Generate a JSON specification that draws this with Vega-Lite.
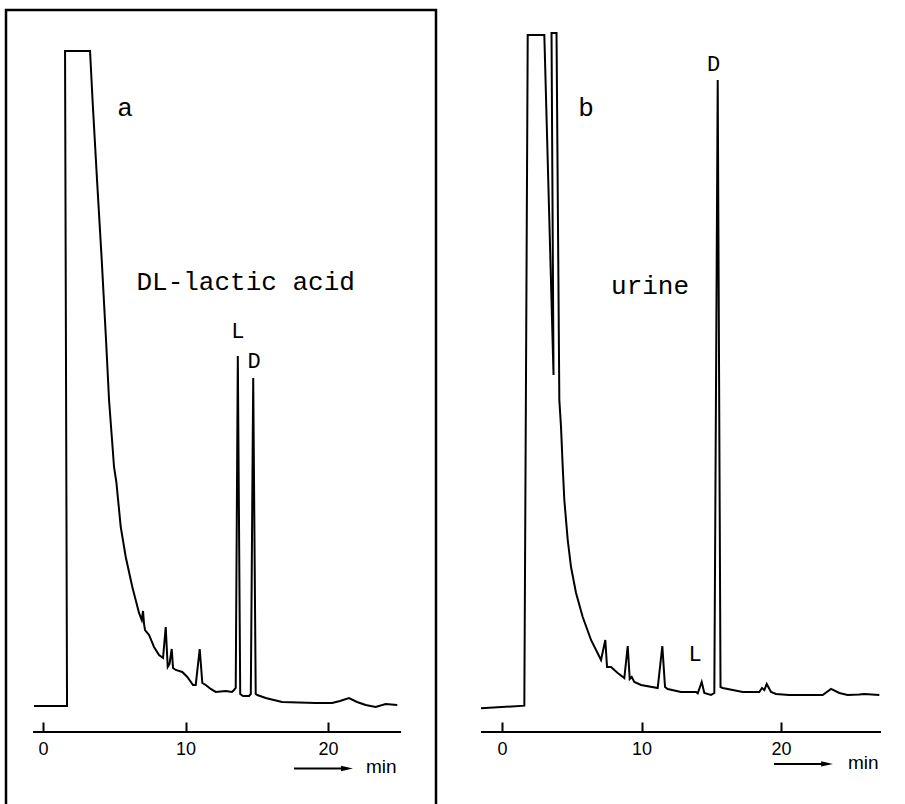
{
  "$schema": "https://vega.github.io/schema/vega-lite/v6.json",
  "padding": {"left": 4, "top": 8, "right": 0, "bottom": 0},
  "spacing": 0,
  "background": "white",
  "config": {
    "view": {"stroke": null},
    "axis": {
      "domain": false, "grid": false, "ticks": true, "tickSize": -10, "tickWidth": 2, "tickColor": "black",
      "labelPadding": 18, "labelFont": "Liberation Sans", "labelFontSize": 18, "labelFontWeight": 500, "labelColor": "black",
      "labelFlush": false, "title": null
    }
  },
  "datasets": {
    "a": [
      {"t": -0.632, "r": 0}, {"t": 1.684, "r": 0}, {"t": 1.544, "r": 100}, {"t": 3.298, "r": 100},
      {"t": 3.474, "r": 92.52}, {"t": 3.789, "r": 80.31}, {"t": 4.119, "r": 68.09}, {"t": 4.421, "r": 55.88},
      {"t": 4.632, "r": 46.72}, {"t": 4.842, "r": 40.61}, {"t": 4.982, "r": 36.49}, {"t": 5.144, "r": 34.2},
      {"t": 5.453, "r": 27.33}, {"t": 5.804, "r": 22.75}, {"t": 6.267, "r": 18.17}, {"t": 6.737, "r": 14.2},
      {"t": 6.926, "r": 13.13}, {"t": 7.018, "r": 14.5}, {"t": 7.088, "r": 12.52}, {"t": 7.158, "r": 11.6},
      {"t": 7.439, "r": 10.84}, {"t": 7.789, "r": 9.01}, {"t": 8.14, "r": 7.79}, {"t": 8.421, "r": 7.33},
      {"t": 8.611, "r": 12.06}, {"t": 8.751, "r": 5.95}, {"t": 8.877, "r": 6.41}, {"t": 9.032, "r": 8.7},
      {"t": 9.123, "r": 5.8}, {"t": 9.312, "r": 5.5}, {"t": 9.775, "r": 5.19}, {"t": 10.126, "r": 4.43},
      {"t": 10.526, "r": 3.21}, {"t": 10.716, "r": 3.21}, {"t": 10.996, "r": 8.7}, {"t": 11.179, "r": 3.51},
      {"t": 11.418, "r": 3.21}, {"t": 11.768, "r": 2.6}, {"t": 12.119, "r": 2.14}, {"t": 12.821, "r": 2.29},
      {"t": 13.263, "r": 2.14}, {"t": 13.404, "r": 2.44}, {"t": 13.523, "r": 2.75}, {"t": 13.67, "r": 53.44},
      {"t": 13.839, "r": 1.83}, {"t": 14.035, "r": 1.53}, {"t": 14.456, "r": 1.53}, {"t": 14.582, "r": 1.83},
      {"t": 14.751, "r": 50.08}, {"t": 14.926, "r": 1.83}, {"t": 15.039, "r": 1.68}, {"t": 15.628, "r": 1.22},
      {"t": 16.772, "r": 0.61}, {"t": 19.137, "r": 0.46}, {"t": 20.281, "r": 0.46}, {"t": 20.842, "r": 0.76},
      {"t": 21.474, "r": 1.22}, {"t": 22.035, "r": 0.61}, {"t": 22.646, "r": 0.15}, {"t": 23.347, "r": -0.15},
      {"t": 24.049, "r": 0.31}, {"t": 24.863, "r": 0.15}
    ],
    "b": [
      {"t": -1.505, "r": -0.35}, {"t": 1.599, "r": 0.05}, {"t": 1.842, "r": 102.44}, {"t": 3.032, "r": 102.44},
      {"t": 3.692, "r": 50.53}, {"t": 3.548, "r": 102.75}, {"t": 3.907, "r": 102.75}, {"t": 4.108, "r": 46.72},
      {"t": 4.229, "r": 42.6}, {"t": 4.351, "r": 36.49}, {"t": 4.466, "r": 31.45}, {"t": 4.71, "r": 25.34},
      {"t": 4.946, "r": 21.22}, {"t": 5.305, "r": 17.25}, {"t": 5.785, "r": 13.59}, {"t": 6.38, "r": 10.08},
      {"t": 7.097, "r": 7.02}, {"t": 7.405, "r": 10.08}, {"t": 7.527, "r": 5.95}, {"t": 7.814, "r": 5.95},
      {"t": 8.294, "r": 5.04}, {"t": 8.767, "r": 4.27}, {"t": 9.011, "r": 9.16}, {"t": 9.154, "r": 4.12},
      {"t": 9.297, "r": 4.43}, {"t": 9.484, "r": 3.66}, {"t": 9.964, "r": 3.21}, {"t": 11.161, "r": 2.75},
      {"t": 11.491, "r": 9.16}, {"t": 11.685, "r": 2.9}, {"t": 11.878, "r": 2.6}, {"t": 12.832, "r": 2.14},
      {"t": 13.907, "r": 2.14}, {"t": 14.029, "r": 1.94}, {"t": 14.315, "r": 3.66}, {"t": 14.502, "r": 1.98},
      {"t": 14.982, "r": 1.68}, {"t": 15.219, "r": 1.98}, {"t": 15.462, "r": 95.57}, {"t": 15.663, "r": 2.9},
      {"t": 15.821, "r": 2.75}, {"t": 16.538, "r": 2.44}, {"t": 17.255, "r": 2.14}, {"t": 18.444, "r": 2.14},
      {"t": 18.638, "r": 2.75}, {"t": 18.803, "r": 2.44}, {"t": 18.975, "r": 3.36}, {"t": 19.283, "r": 2.14},
      {"t": 19.642, "r": 1.83}, {"t": 20.573, "r": 1.68}, {"t": 22.989, "r": 1.68}, {"t": 23.584, "r": 2.6},
      {"t": 24.179, "r": 1.98}, {"t": 24.781, "r": 1.68}, {"t": 25.613, "r": 1.76}, {"t": 25.971, "r": 1.83},
      {"t": 27.047, "r": 1.68}
    ]
  },
  "hconcat": [
    {
      "width": 430,
      "height": 800,
      "view": {"stroke": "black", "strokeWidth": 2.5},
      "layer": [
        {
          "data": {"name": "a"},
          "mark": {"type": "line", "color": "black", "strokeWidth": 2},
          "encoding": {
            "x": {"field": "t", "type": "quantitative", "scale": {"domain": [-2.6, 27.58], "nice": false, "zero": false},
                  "axis": {"values": [0, 10, 20], "offset": -78}},
            "y": {"field": "r", "type": "quantitative", "scale": {"domain": [-15.88, 106.26], "nice": false, "zero": false}, "axis": null},
            "order": {"value": null}
          }
        },
        {
          "data": {"values": [{"t": -0.7, "t2": 25.13, "r": -3.97}]},
          "mark": {"type": "rule", "color": "black", "strokeWidth": 2},
          "encoding": {
            "x": {"field": "t", "type": "quantitative"},
            "x2": {"field": "t2"},
            "y": {"field": "r", "type": "quantitative"}
          }
        },
        {
          "data": {"values": [{"t": 17.61, "t2": 21.2, "r": -9.54}]},
          "mark": {"type": "rule", "color": "black", "strokeWidth": 2},
          "encoding": {
            "x": {"field": "t", "type": "quantitative"},
            "x2": {"field": "t2"},
            "y": {"field": "r", "type": "quantitative"}
          }
        },
        {
          "data": {"values": [{"t": 21.33, "r": -9.54}]},
          "mark": {"type": "point", "shape": "M-1,-0.45L1,0L-1,0.45Z", "filled": true, "color": "black", "size": 140, "opacity": 1},
          "encoding": {
            "x": {"field": "t", "type": "quantitative"},
            "y": {"field": "r", "type": "quantitative"}
          }
        },
        {
          "data": {"values": [{"t": 22.67, "r": -9.31, "label": "min"}]},
          "mark": {"type": "text", "font": "Liberation Sans", "fontSize": 19, "fontWeight": 500, "align": "left", "baseline": "middle", "color": "black"},
          "encoding": {
            "x": {"field": "t", "type": "quantitative"},
            "y": {"field": "r", "type": "quantitative"},
            "text": {"field": "label"}
          }
        },
        {
          "data": {"values": [{"t": 5.75, "r": 91.3, "label": "a"}, {"t": 14.22, "r": 64.73, "label": "DL-lactic acid"}]},
          "mark": {"type": "text", "font": "Liberation Mono", "fontSize": 26, "align": "center", "baseline": "middle", "color": "black"},
          "encoding": {
            "x": {"field": "t", "type": "quantitative"},
            "y": {"field": "r", "type": "quantitative"},
            "text": {"field": "label"}
          }
        },
        {
          "data": {"values": [{"t": 13.68, "r": 57.18, "label": "L"}, {"t": 14.81, "r": 52.6, "label": "D"}]},
          "mark": {"type": "text", "font": "Liberation Mono", "fontSize": 22, "align": "center", "baseline": "middle", "color": "black"},
          "encoding": {
            "x": {"field": "t", "type": "quantitative"},
            "y": {"field": "r", "type": "quantitative"},
            "text": {"field": "label"}
          }
        }
      ]
    },
    {
      "width": 468,
      "height": 800,
      "layer": [
        {
          "data": {"name": "b"},
          "mark": {"type": "line", "color": "black", "strokeWidth": 2},
          "encoding": {
            "x": {"field": "t", "type": "quantitative", "scale": {"domain": [-4.59, 28.96], "nice": false, "zero": false},
                  "axis": {"values": [0, 10, 20], "offset": -78}},
            "y": {"field": "r", "type": "quantitative", "scale": {"domain": [-15.88, 106.26], "nice": false, "zero": false}, "axis": null},
            "order": {"value": null}
          }
        },
        {
          "mark": {"type": "rule", "color": "black", "strokeWidth": 2.5},
          "encoding": {"y": {"datum": 106.26, "type": "quantitative"}}
        },
        {
          "data": {"values": [{"t": -1.505, "t2": 27.17, "r": -3.97}]},
          "mark": {"type": "rule", "color": "black", "strokeWidth": 2},
          "encoding": {
            "x": {"field": "t", "type": "quantitative"},
            "x2": {"field": "t2"},
            "y": {"field": "r", "type": "quantitative"}
          }
        },
        {
          "data": {"values": [{"t": 19.5, "t2": 23.15, "r": -8.85}]},
          "mark": {"type": "rule", "color": "black", "strokeWidth": 2},
          "encoding": {
            "x": {"field": "t", "type": "quantitative"},
            "x2": {"field": "t2"},
            "y": {"field": "r", "type": "quantitative"}
          }
        },
        {
          "data": {"values": [{"t": 23.3, "r": -8.85}]},
          "mark": {"type": "point", "shape": "M-1,-0.45L1,0L-1,0.45Z", "filled": true, "color": "black", "size": 140, "opacity": 1},
          "encoding": {
            "x": {"field": "t", "type": "quantitative"},
            "y": {"field": "r", "type": "quantitative"}
          }
        },
        {
          "data": {"values": [{"t": 24.8, "r": -8.7, "label": "min"}]},
          "mark": {"type": "text", "font": "Liberation Sans", "fontSize": 19, "fontWeight": 500, "align": "left", "baseline": "middle", "color": "black"},
          "encoding": {
            "x": {"field": "t", "type": "quantitative"},
            "y": {"field": "r", "type": "quantitative"},
            "text": {"field": "label"}
          }
        },
        {
          "data": {"values": [{"t": 6.02, "r": 91.3, "label": "b"}, {"t": 10.61, "r": 64.12, "label": "urine"}]},
          "mark": {"type": "text", "font": "Liberation Mono", "fontSize": 26, "align": "center", "baseline": "middle", "color": "black"},
          "encoding": {
            "x": {"field": "t", "type": "quantitative"},
            "y": {"field": "r", "type": "quantitative"},
            "text": {"field": "label"}
          }
        },
        {
          "data": {"values": [{"t": 15.16, "r": 98.09, "label": "D"}, {"t": 13.84, "r": 7.94, "label": "L"}]},
          "mark": {"type": "text", "font": "Liberation Mono", "fontSize": 22, "align": "center", "baseline": "middle", "color": "black"},
          "encoding": {
            "x": {"field": "t", "type": "quantitative"},
            "y": {"field": "r", "type": "quantitative"},
            "text": {"field": "label"}
          }
        }
      ]
    }
  ]
}
